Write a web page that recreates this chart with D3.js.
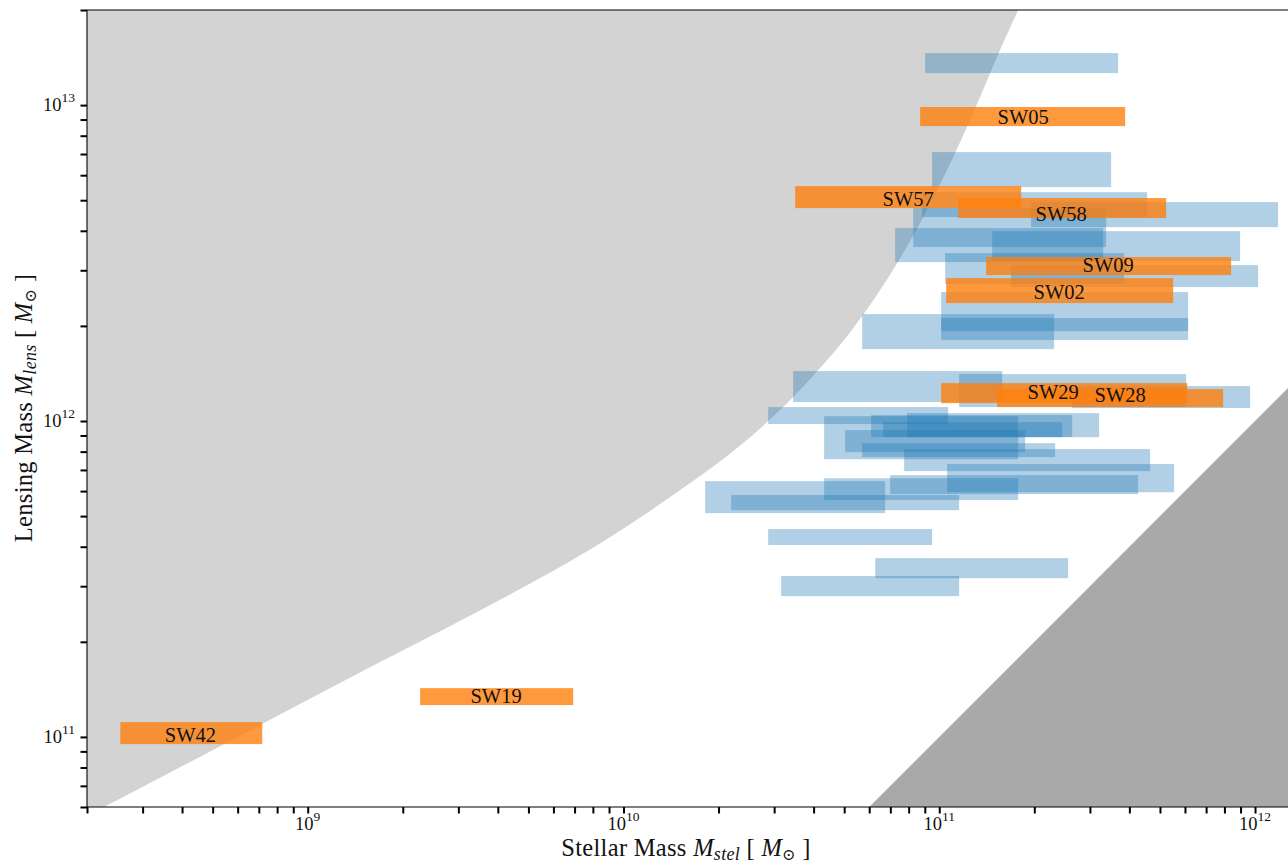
<!DOCTYPE html>
<html><head><meta charset="utf-8">
<script src="https://cdn.jsdelivr.net/npm/d3@7/dist/d3.min.js"></script>
<style>body{margin:0;background:#fff}svg{display:block}</style>
</head><body>
<svg id="c" width="1288" height="862"></svg>
<script>
// ---------- data ----------
const xDomain = [2e8, 1.3e12];
const yDomain = [6e10, 2e13];

// boundary of the light-gray excluded region
const boundaryMstel = [2.268e8, 5.21e8, 1.314e9, 3.39e9, 8.08e9, 1.627e10, 2.342e10, 3.251e10, 4.196e10, 5.222e10, 6.405e10, 7.686e10, 9.02e10, 1.083e11, 1.299e11, 1.559e11, 1.80e11];
const boundaryMlens = [6.0e10, 9.28e10, 1.512e11, 2.466e11, 3.99e11, 6.36e11, 8.36e11, 1.123e12, 1.471e12, 1.911e12, 2.540e12, 3.400e12, 4.538e12, 6.535e12, 9.76e12, 1.498e13, 2.052e13];

// blue sample boxes
const sampleMstelLo = [9.02e10, 9.49e10, 8.83e10, 8.27e10, 1.954e11, 7.25e10, 1.471e11, 1.044e11, 1.689e11, 1.014e11, 1.014e11, 5.70e10, 3.446e10, 1.156e11, 2.636e11, 2.872e10, 4.320e10, 6.085e10, 7.91e10, 6.64e10, 5.035e10, 5.70e10, 7.74e10, 1.059e11, 6.99e10, 4.320e10, 1.814e10, 2.193e10, 2.872e10, 6.27e10, 3.158e10];
const sampleMstelHi = [3.686e11, 3.502e11, 4.553e11, 3.377e11, 1.183e12, 3.304e11, 8.97e11, 3.850e11, 1.023e12, 6.14e11, 6.14e11, 2.311e11, 1.582e11, 6.05e11, 9.65e11, 1.067e11, 1.778e11, 2.636e11, 3.208e11, 2.450e11, 1.871e11, 2.328e11, 4.654e11, 5.545e11, 4.264e11, 1.778e11, 6.74e10, 1.156e11, 9.49e10, 2.560e11, 1.156e11];
const sampleMlensLo = [1.263e13, 5.50e12, 4.42e12, 3.553e12, 4.11e12, 3.184e12, 3.208e12, 2.713e12, 2.654e12, 1.804e12, 1.925e12, 1.689e12, 1.148e12, 1.107e12, 1.099e12, 9.78e11, 7.57e11, 8.89e11, 8.89e11, 8.89e11, 7.97e11, 7.69e11, 6.94e11, 5.95e11, 5.87e11, 5.62e11, 5.11e11, 5.22e11, 4.05e11, 3.18e11, 2.79e11];
const sampleMlensHi = [1.461e13, 7.10e12, 5.30e12, 4.72e12, 4.93e12, 4.08e12, 3.99e12, 3.40e12, 3.115e12, 2.559e12, 2.117e12, 2.180e12, 1.439e12, 1.408e12, 1.290e12, 1.107e12, 1.036e12, 1.044e12, 1.059e12, 9.92e11, 9.36e11, 8.51e11, 8.15e11, 7.31e11, 6.74e11, 6.59e11, 6.45e11, 5.83e11, 4.55e11, 3.68e11, 3.23e11];

// orange named lenses
const lensNames    = ["SW05", "SW57", "SW58", "SW09", "SW02", "SW29", "SW28", "SW19", "SW42"];
const lensMstel    = [1.844e11, 7.97e10, 2.432e11, 3.426e11, 2.397e11, 2.295e11, 3.740e11, 3.95e9, 4.25e8];
const lensMlens    = [9.16e12, 5.04e12, 4.52e12, 3.115e12, 2.559e12, 1.235e12, 1.208e12, 1.347e11, 1.013e11];
const lensMstelLo  = [8.70e10, 3.497e10, 1.148e11, 1.408e11, 1.052e11, 1.014e11, 1.525e11, 2.27e9, 2.55e8];
const lensMstelHi  = [3.879e11, 1.817e11, 5.23e11, 8.40e11, 5.505e11, 6.10e11, 7.925e11, 6.93e9, 7.18e8];
const lensMlensLo  = [8.58e12, 4.72e12, 4.39e12, 2.897e12, 2.362e12, 1.139e12, 1.107e12, 1.261e11, 9.49e10];
const lensMlensHi  = [9.86e12, 5.54e12, 5.08e12, 3.303e12, 2.834e12, 1.318e12, 1.262e12, 1.427e11, 1.114e11];

const xTickExps = [9, 10, 11, 12];
const yTickExps = [11, 12, 13];

// ---------- drawing ----------
const svg = d3.select("#c");
const L = 87, R = 1291, T = 10, B = 807;
const x = d3.scaleLog().domain(xDomain).range([L, R]);
const y = d3.scaleLog().domain(yDomain).range([B, T]);
const serif = "'Liberation Serif','DejaVu Serif',serif";

svg.append("defs").append("clipPath").attr("id", "clip")
  .append("rect").attr("x", L).attr("y", T).attr("width", R - L).attr("height", B - T);
const g = svg.append("g").attr("clip-path", "url(#clip)");

// light gray region
const curvePts = boundaryMstel.map((m, i) => [m, boundaryMlens[i]]);
const curveLine = d3.line().x(d => x(d[0])).y(d => y(d[1])).curve(d3.curveCatmullRom.alpha(0.5));
g.append("path")
  .attr("d", curveLine(curvePts) + `L${x(xDomain[0]) - 2},${y(yDomain[1]) - 2}L${x(xDomain[0]) - 2},${y(yDomain[0]) + 2}Z`)
  .attr("fill", "#d3d3d3");

// dark gray region: M_stel > M_lens
const diag = [yDomain[0] / 2, yDomain[1] * 4];
g.append("path")
  .attr("d", d3.line()([[x(diag[0]), y(diag[0])], [x(diag[1]), y(diag[1])], [x(diag[1]), y(diag[0])]]) + "Z")
  .attr("fill", "#a9a9a9");

// blue boxes
g.append("g").selectAll("rect").data(d3.range(sampleMstelLo.length)).join("rect")
  .attr("x", i => x(sampleMstelLo[i]))
  .attr("width", i => x(sampleMstelHi[i]) - x(sampleMstelLo[i]))
  .attr("y", i => y(sampleMlensHi[i]))
  .attr("height", i => y(sampleMlensLo[i]) - y(sampleMlensHi[i]))
  .attr("fill", "#1f77b4").attr("fill-opacity", 0.35);

// orange boxes
g.append("g").selectAll("rect").data(d3.range(lensNames.length)).join("rect")
  .attr("x", i => x(lensMstelLo[i]))
  .attr("width", i => x(lensMstelHi[i]) - x(lensMstelLo[i]))
  .attr("y", i => y(lensMlensHi[i]))
  .attr("height", i => y(lensMlensLo[i]) - y(lensMlensHi[i]))
  .attr("fill", "#ff7f0e").attr("fill-opacity", 0.8);

// labels
svg.append("g").selectAll("text").data(d3.range(lensNames.length)).join("text")
  .attr("x", i => x(lensMstel[i]))
  .attr("y", i => y(lensMlens[i]))
  .attr("dy", "0.35em")
  .attr("text-anchor", "middle")
  .attr("font-family", serif).attr("font-size", 20.5).attr("fill", "#111")
  .text(i => lensNames[i]);

// axes (ticks only)
const xAxis = svg.append("g").attr("transform", `translate(0,${B})`)
  .call(d3.axisBottom(x).tickValues(x.ticks()).tickSize(6.5).tickFormat(""));
const yAxis = svg.append("g").attr("transform", `translate(${L},0)`)
  .call(d3.axisLeft(y).tickValues(y.ticks()).tickSize(6.5).tickFormat(""));
[xAxis, yAxis].forEach(a => {
  a.select(".domain").remove();
  a.selectAll(".tick line").attr("stroke", "#000").attr("stroke-width", 2);
});

// spines
const sp = svg.append("g").attr("stroke", "#000").attr("stroke-width", 1.1).attr("fill", "none");
sp.append("line").attr("x1", L).attr("x2", L).attr("y1", T).attr("y2", B);
sp.append("line").attr("x1", L).attr("x2", R).attr("y1", B).attr("y2", B);
sp.append("line").attr("x1", L).attr("x2", R).attr("y1", T).attr("y2", T);
sp.append("line").attr("x1", R).attr("x2", R).attr("y1", T).attr("y2", B);

// tick labels
const xl = svg.append("g").selectAll("text").data(xTickExps).join("text")
  .attr("x", e => x(Math.pow(10, e))).attr("y", 829.5)
  .attr("text-anchor", "middle").attr("font-family", serif).attr("font-size", 18.5).attr("fill", "#111");
xl.append("tspan").text("10");
xl.append("tspan").attr("dy", -9).attr("font-size", 13.5).text(e => e);

const yl = svg.append("g").selectAll("text").data(yTickExps).join("text")
  .attr("x", 75).attr("y", e => y(Math.pow(10, e)) + 6)
  .attr("text-anchor", "end").attr("font-family", serif).attr("font-size", 18.5).attr("fill", "#111");
yl.append("tspan").text("10");
yl.append("tspan").attr("dy", -9).attr("font-size", 13.5).text(e => e);

// axis titles
function title(sel, name, sub) {
  sel.attr("font-family", serif).attr("font-size", 24.5).attr("letter-spacing", 0.3)
    .attr("fill", "#111").attr("text-anchor", "middle");
  sel.append("tspan").text(name + " ");
  sel.append("tspan").attr("font-style", "italic").text("M");
  sel.append("tspan").attr("font-style", "italic").attr("font-size", 18).attr("dy", 3.5).text(sub);
  sel.append("tspan").attr("dy", -3.5).text(" [ ");
  sel.append("tspan").attr("font-style", "italic").text("M");
  sel.append("tspan").attr("font-size", 16).attr("dy", 3.5).text("\u2299");
  sel.append("tspan").attr("dy", -3.5).text(" ]");
}
title(svg.append("text").attr("x", 686).attr("y", 856), "Stellar Mass", "stel");
title(svg.append("text").attr("transform", "translate(32,408) rotate(-90)"), "Lensing Mass", "lens");
</script>
</body></html>
